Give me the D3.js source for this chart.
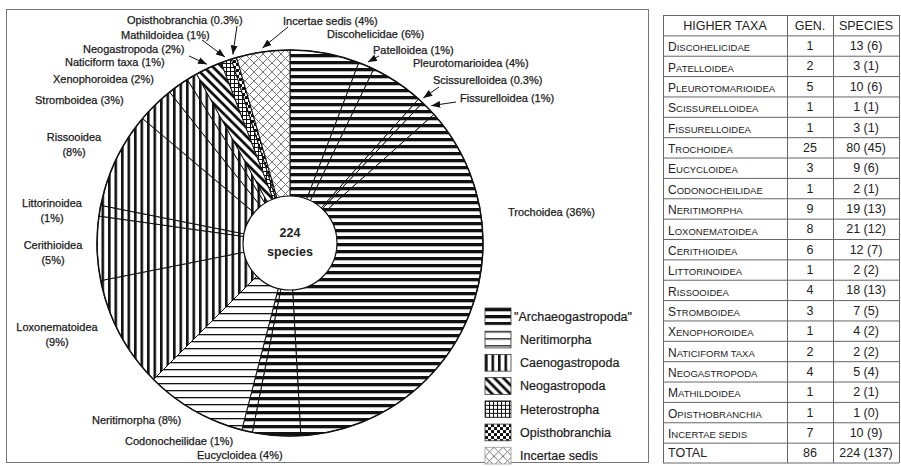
<!DOCTYPE html>
<html>
<head>
<meta charset="utf-8">
<script src="https://cdn.jsdelivr.net/npm/d3@7"></script>
<style>
  body { margin: 0; background: #fff; }
  svg { display: block; font-family: "Liberation Sans", Arial, sans-serif; }
</style>
</head>
<body>
<div id="chart"></div>
<script>
// Table / pie data, in the order of the table (pie runs clockwise from 12 o'clock)
let taxa = ["Discohelicidae", "Patelloidea", "Pleurotomarioidea", "Scissurelloidea", "Fissurelloidea",
            "Trochoidea", "Eucycloidea", "Codonocheilidae", "Neritimorpha", "Loxonematoidea",
            "Cerithioidea", "Littorinoidea", "Rissooidea", "Stromboidea", "Xenophoroidea",
            "Naticiform taxa", "Neogastropoda", "Mathildoidea", "Opisthobranchia", "Incertae sedis"];
let genera = [1, 2, 5, 1, 1, 25, 3, 1, 9, 8, 6, 1, 4, 3, 1, 2, 4, 1, 1, 7];
let species = [13, 3, 10, 1, 3, 80, 9, 2, 19, 21, 12, 2, 18, 7, 4, 2, 5, 2, 1, 10];
let speciesIn = [6, 1, 6, 1, 1, 45, 6, 1, 13, 12, 7, 2, 13, 5, 2, 2, 4, 1, 0, 9];
let pctLabels = ["6%", "1%", "4%", "0.3%", "1%", "36%", "4%", "1%", "8%", "9%",
                 "5%", "1%", "8%", "3%", "2%", "1%", "2%", "1%", "0.3%", "4%"];
let taxaGroup = [0, 0, 0, 0, 0, 0, 0, 0, 1, 2, 2, 2, 2, 2, 2, 2, 3, 4, 5, 6];
let groups = ["\"Archaeogastropoda\"", "Neritimorpha", "Caenogastropoda", "Neogastropoda",
              "Heterostropha", "Opisthobranchia", "Incertae sedis"];
let totalGenera = 86, totalSpecies = 224, totalSpeciesIn = 137;

// Layout
let width = 901, height = 466;
let cx = 290, cy = 243, R = 193, r0 = 47;

// label placement: [x, y, anchor, two lines?, arrow start x, arrow start y]
let labelPos = [
  [327, 38, "start", false],
  [373, 54, "start", false, 379, 56],
  [413, 67, "start", false],
  [433, 84, "start", false, 439, 87],
  [460, 102, "start", false, 456, 102],
  [508, 216, "start", false],
  [197, 459, "start", false],
  [125, 445, "start", false],
  [92, 424, "start", false],
  [57, 331, "middle", true],
  [53, 249, "middle", true],
  [52, 207, "middle", true],
  [74, 141, "middle", true],
  [35, 104, "start", false],
  [53, 83, "start", false],
  [65, 66, "start", false],
  [83, 53, "start", false, 189, 56],
  [121, 39, "start", false, 202, 40],
  [127, 24, "start", false, 237, 26],
  [283, 25, "start", false, 288, 27]
];

let svg = d3.select("#chart").append("svg")
  .attr("width", width)
  .attr("height", height);

let defs = svg.append("defs");

function pattern(id, w, h, draw) {
  let p = defs.append("pattern")
    .attr("id", id)
    .attr("patternUnits", "userSpaceOnUse")
    .attr("width", w)
    .attr("height", h);
  p.append("rect").attr("width", w).attr("height", h).attr("fill", "#fff");
  draw(p);
}

// "Archaeogastropoda" - thick horizontal
pattern("p0", 8, 7, p => p.append("rect").attr("y", 0).attr("width", 8).attr("height", 3.3).attr("fill", "#111"));
// Neritimorpha - thin horizontal
pattern("p1", 8, 7, p => p.append("rect").attr("y", 0).attr("width", 8).attr("height", 1.3).attr("fill", "#111"));
// Caenogastropoda - vertical
pattern("p2", 6.5, 8, p => p.append("rect").attr("x", 0).attr("width", 2.6).attr("height", 8).attr("fill", "#111"));
// Neogastropoda - diagonal
pattern("p3", 9, 9, p => {
  p.append("path").attr("d", "M-2,-2L11,11M-2,7L2,11M7,-2L11,2")
    .attr("stroke", "#111").attr("stroke-width", 2.8);
});
// Heterostropha - grid
pattern("p4", 4, 4, p => {
  p.append("path").attr("d", "M0,0.5H4M0.5,0V4").attr("stroke", "#111").attr("stroke-width", 1);
});
// Opisthobranchia - checker
pattern("p5", 6, 6, p => {
  p.append("rect").attr("width", 3).attr("height", 3).attr("fill", "#111");
  p.append("rect").attr("x", 3).attr("y", 3).attr("width", 3).attr("height", 3).attr("fill", "#111");
});
// Incertae sedis - cross hatch
pattern("p6", 9, 9, p => {
  p.append("path").attr("d", "M0,0L9,9M9,0L0,9")
    .attr("stroke", "#777").attr("stroke-width", 1);
});

defs.append("marker")
  .attr("id", "arrow")
  .attr("markerUnits", "userSpaceOnUse")
  .attr("markerWidth", 9)
  .attr("markerHeight", 7)
  .attr("refX", 9)
  .attr("refY", 3.5)
  .attr("orient", "auto")
  .append("path")
  .attr("d", "M0,0L9,3.5L0,7z")
  .attr("fill", "#111");

// chart frame
svg.append("rect")
  .attr("x", 6.5).attr("y", 9.5)
  .attr("width", 642).attr("height", 453)
  .attr("fill", "none")
  .attr("stroke", "#777")
  .attr("stroke-width", 1);

// pie
let rows = taxa.map((t, i) => ({name: t, value: species[i], group: taxaGroup[i], pct: pctLabels[i], i: i}));

let pie = d3.pie().sort(null).value(d => d.value);
let arcs = pie(rows);
let arc = d3.arc().innerRadius(0).outerRadius(R);

let g = svg.append("g").attr("transform", "translate(" + cx + "," + cy + ")");

g.selectAll("path.slice")
  .data(arcs)
  .enter()
  .append("path")
  .attr("class", "slice")
  .attr("d", arc)
  .attr("fill", d => "url(#p" + d.data.group + ")")
  .attr("stroke", "#111")
  .attr("stroke-width", 1);

g.append("circle").attr("r", R).attr("fill", "none").attr("stroke", "#111").attr("stroke-width", 1.5);
g.append("circle").attr("r", r0).attr("fill", "#fff").attr("stroke", "#111").attr("stroke-width", 1.2);

g.append("text").attr("y", -6).attr("text-anchor", "middle")
  .style("font-size", "12.5px").style("font-weight", "bold").attr("fill", "#222")
  .text(totalSpecies);
g.append("text").attr("y", 13).attr("text-anchor", "middle")
  .style("font-size", "12.5px").style("font-weight", "bold").attr("fill", "#222")
  .text("species");

// slice labels
let labels = svg.append("g").style("font-size", "11px").attr("fill", "#1a1a1a")
  .attr("stroke", "#1a1a1a").attr("stroke-width", 0.25);
arcs.forEach(function(a, i) {
  let lp = labelPos[i];
  let t = labels.append("text").attr("x", lp[0]).attr("y", lp[1]).attr("text-anchor", lp[2]);
  if (lp[3]) {
    t.append("tspan").attr("x", lp[0]).text(a.data.name);
    t.append("tspan").attr("x", lp[0]).attr("dy", 15).text("(" + a.data.pct + ")");
  } else {
    t.text(a.data.name + " (" + a.data.pct + ")");
  }
  if (lp.length > 4) {
    let mid = (a.startAngle + a.endAngle) / 2;
    let tip = d3.pointRadial(mid, R + 4);
    svg.append("line")
      .attr("x1", lp[4]).attr("y1", lp[5])
      .attr("x2", cx + tip[0]).attr("y2", cy + tip[1])
      .attr("stroke", "#111").attr("stroke-width", 1)
      .attr("marker-end", "url(#arrow)");
  }
});

// legend
let ly = d3.scaleBand().domain(d3.range(groups.length)).range([308, 464]).paddingInner(0.28);
let legend = svg.selectAll(".legend")
  .data(groups)
  .enter().append("g")
  .attr("class", "legend")
  .attr("transform", (d, i) => "translate(485," + ly(i) + ")");

legend.append("rect")
  .attr("width", 26)
  .attr("height", ly.bandwidth())
  .attr("fill", (d, i) => "url(#p" + i + ")")
  .attr("stroke", (d, i) => i === 6 ? "#999" : "#333")
  .attr("stroke-width", 0.8);

legend.append("text")
  .attr("x", (d, i) => i === 0 ? 29 : 35)
  .attr("y", ly.bandwidth() / 2)
  .attr("dy", "0.36em")
  .style("font-size", "12.5px")
  .attr("fill", "#1a1a1a")
  .attr("stroke", "#1a1a1a").attr("stroke-width", 0.2)
  .text(d => d);

// table
let tx = [663, 787, 833, 899];
let nRows = taxa.length + 2;
let ty = d3.scaleBand().domain(d3.range(nRows)).range([15, 463]);

let table = svg.append("g").attr("fill", "#222");

ty.domain().forEach(function(i) {
  table.append("line")
    .attr("x1", tx[0]).attr("x2", tx[3])
    .attr("y1", ty(i) + 0.5).attr("y2", ty(i) + 0.5)
    .attr("stroke", "#666").attr("stroke-width", 1);
});
table.append("line").attr("x1", tx[0]).attr("x2", tx[3]).attr("y1", 463).attr("y2", 463)
  .attr("stroke", "#666").attr("stroke-width", 1);
tx.forEach(function(x) {
  table.append("line").attr("x1", x + 0.5).attr("x2", x + 0.5).attr("y1", 15).attr("y2", 463)
    .attr("stroke", "#666").attr("stroke-width", 1);
});

function rowY(i) { return ty(i) + ty.bandwidth() / 2; }

function headText(x, i, s, anchor) {
  table.append("text").attr("x", x).attr("y", rowY(i)).attr("dy", "0.36em")
    .attr("text-anchor", anchor).style("font-size", "12.5px").text(s);
}

headText((tx[0] + tx[1]) / 2, 0, "HIGHER TAXA", "middle");
headText((tx[1] + tx[2]) / 2, 0, "GEN.", "middle");
headText((tx[2] + tx[3]) / 2, 0, "SPECIES", "middle");

// small caps names
taxa.forEach(function(name, k) {
  let t = table.append("text").attr("x", tx[0] + 5).attr("y", rowY(k + 1)).attr("dy", "0.36em");
  name.split(" ").forEach(function(w, j) {
    let first = j === 0 ? w[0].toUpperCase() : "";
    let rest = (j === 0 ? w.slice(1) : " " + w).toUpperCase();
    if (first) t.append("tspan").style("font-size", "12px").text(first);
    t.append("tspan").style("font-size", "9.5px").text(rest);
  });
  table.append("text").attr("x", (tx[1] + tx[2]) / 2).attr("y", rowY(k + 1)).attr("dy", "0.36em")
    .attr("text-anchor", "middle").style("font-size", "12.5px").text(genera[k]);
  table.append("text").attr("x", (tx[2] + tx[3]) / 2).attr("y", rowY(k + 1)).attr("dy", "0.36em")
    .attr("text-anchor", "middle").style("font-size", "12.5px").text(species[k] + " (" + speciesIn[k] + ")");
});

headText(tx[0] + 5, nRows - 1, "TOTAL", "start");
headText((tx[1] + tx[2]) / 2, nRows - 1, totalGenera, "middle");
headText((tx[2] + tx[3]) / 2, nRows - 1, totalSpecies + " (" + totalSpeciesIn + ")", "middle");
</script>
</body>
</html>
